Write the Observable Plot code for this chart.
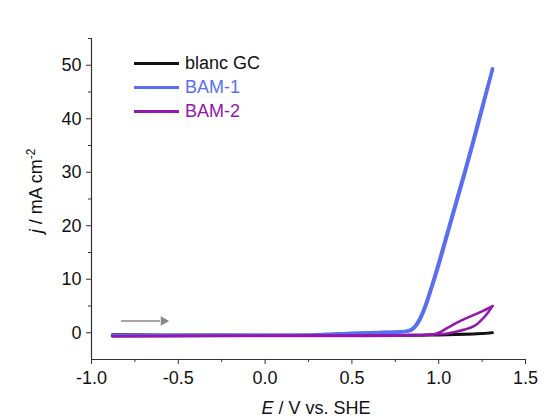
<!DOCTYPE html>
<html>
<head>
<meta charset="utf-8">
<script src="https://cdn.jsdelivr.net/npm/d3@7"></script>
<script src="https://cdn.jsdelivr.net/npm/@observablehq/plot@0.6"></script>
<style>
  html, body { margin: 0; padding: 0; background: #fff; }
  #chart { position: relative; width: 546px; height: 419px; font-family: "Liberation Sans", Arial, sans-serif; }
  .legend { position: absolute; left: 134px; top: 51px; font-size: 18px; line-height: 24px; }
  .legend .row { display: flex; align-items: center; height: 24px; }
  .legend .sw { width: 45px; height: 3px; margin-right: 6px; }
</style>
</head>
<body>
<div id="chart"></div>
<script>
// Axis ticks
const xTicks = [-1.0, -0.5, 0.0, 0.5, 1.0, 1.5];
const xMinorTicks = [-0.75, -0.25, 0.25, 0.75, 1.25];
const yTicks = [0, 10, 20, 30, 40, 50];
const yMinorTicks = [5, 15, 25, 35, 45, 55];
const xDomain = [-1.0, 1.5];
const yDomain = [-5, 55];

// Series names and colours
const seriesNames = ["blanc GC", "BAM-1", "BAM-2"];
const seriesColors = ["#111111", "#5a6ff0", "#9316ad"];

// blanc GC: anodic and cathodic sweeps (E in V vs. SHE, j in mA cm-2)
const blancFwdE = [-0.88, -0.6, -0.2, 0.2, 0.6, 0.9, 1.0, 1.1, 1.2, 1.31];
const blancFwdJ = [-0.35, -0.4, -0.42, -0.42, -0.42, -0.4, -0.36, -0.28, -0.18, -0.02];
const blancRevE = [1.31, 1.2, 1.0, 0.6, 0.0, -0.5, -0.88];
const blancRevJ = [-0.02, -0.3, -0.45, -0.45, -0.45, -0.42, -0.4];

// BAM-1
const bam1FwdE = [-0.88, -0.5, 0.0, 0.3, 0.45, 0.6, 0.7, 0.78, 0.82, 0.85, 0.87, 0.89, 0.91, 0.93, 0.96, 1.0, 1.05, 1.1, 1.15, 1.2, 1.25, 1.31];
const bam1FwdJ = [-0.5, -0.5, -0.45, -0.35, -0.2, 0.0, 0.1, 0.2, 0.35, 0.8, 1.5, 2.6, 4.0, 5.8, 8.8, 13.1, 18.8, 24.5, 30.2, 36.1, 42.2, 49.3];
const bam1RevE = [1.31, 1.25, 1.2, 1.15, 1.1, 1.05, 1.0, 0.96, 0.93, 0.91, 0.89, 0.87, 0.85, 0.82, 0.78, 0.7, 0.5, 0.4];
const bam1RevJ = [49.3, 41.7, 35.6, 29.7, 24.0, 18.3, 12.6, 8.4, 5.4, 3.7, 2.3, 1.3, 0.65, 0.3, 0.15, 0.05, -0.15, -0.25];

// BAM-2
const bam2FwdE = [-0.88, -0.5, 0.0, 0.5, 0.8, 0.95, 1.0, 1.05, 1.1, 1.15, 1.2, 1.22, 1.25, 1.28, 1.31];
const bam2FwdJ = [-0.65, -0.6, -0.55, -0.5, -0.45, -0.38, -0.3, -0.12, 0.2, 0.6, 1.2, 1.6, 2.5, 3.6, 5.0];
const bam2RevE = [1.31, 1.29, 1.25, 1.2, 1.15, 1.1, 1.05, 1.0, 0.97, 0.9, 0.5, 0.0, -0.5, -0.88];
const bam2RevJ = [5.0, 4.65, 4.0, 3.3, 2.6, 1.8, 0.9, 0.0, -0.3, -0.5, -0.6, -0.6, -0.62, -0.65];

// Scan direction arrow
const arrowE = [-0.83, -0.585];
const arrowJ = 2.2;

const rows = [];
function addSweep(curve, sweep, E, J) {
  E.forEach((e, i) => rows.push({curve, sweep, id: curve + "/" + sweep, E: e, j: J[i]}));
}
addSweep("blanc GC", "fwd", blancFwdE, blancFwdJ);
addSweep("blanc GC", "rev", blancRevE, blancRevJ);
addSweep("BAM-1", "fwd", bam1FwdE, bam1FwdJ);
addSweep("BAM-1", "rev", bam1RevE, bam1RevJ);
addSweep("BAM-2", "fwd", bam2FwdE, bam2FwdJ);
addSweep("BAM-2", "rev", bam2RevE, bam2RevJ);

const widths = {"blanc GC": 2.5, "BAM-1": 3.4, "BAM-2": 2.5};
const lineMarks = seriesNames.map(name =>
  Plot.line(rows.filter(d => d.curve === name), {
    x: "E", y: "j", z: "id", stroke: "curve",
    strokeWidth: widths[name], curve: "monotone-x"
  })
);

const axisColor = "#333";
const plot = Plot.plot({
  width: 546,
  height: 419,
  marginLeft: 91,
  marginRight: 21,
  marginTop: 38,
  marginBottom: 60,
  style: {background: "white", fontFamily: "'Liberation Sans', Arial, sans-serif", fontSize: "18px", color: "#111"},
  x: {domain: xDomain, label: null},
  y: {domain: yDomain, label: null},
  color: {domain: seriesNames, range: seriesColors},
  marks: [
    Plot.ruleX([xDomain[0]], {stroke: axisColor, strokeWidth: 1.2}),
    Plot.ruleY([yDomain[0]], {stroke: axisColor, strokeWidth: 1.2}),
    Plot.axisX(xTicks, {tickSize: 5, tickPadding: 7, tickFormat: d => d.toFixed(1), label: null, stroke: axisColor}),
    Plot.axisX(xMinorTicks, {tickSize: 3, text: null, label: null, stroke: axisColor}),
    Plot.axisY(yTicks, {tickSize: 5, tickPadding: 5, label: null, stroke: axisColor}),
    Plot.axisY(yMinorTicks, {tickSize: 3, text: null, label: null, stroke: axisColor}),
    ...lineMarks,
    Plot.link([arrowE], {x1: d => d[0], x2: d => d[1] - 0.02, y1: arrowJ, y2: arrowJ, stroke: "#888", strokeWidth: 1.6}),
    Plot.dot([arrowE], {x: d => d[1], y: arrowJ, symbol: "triangle", rotate: 90, r: 3.6, fill: "#888", stroke: "none"})
  ]
});

const chart = document.getElementById("chart");
chart.appendChild(plot);

// Axis titles with italic variables and superscript
const svg = d3.select(plot);
const xt = svg.append("text")
  .attr("x", 316).attr("y", 414)
  .attr("text-anchor", "middle")
  .attr("font-size", 18).attr("fill", "#111");
xt.append("tspan").attr("font-style", "italic").text("E");
xt.append("tspan").text(" / V vs. SHE");

const yt = svg.append("text")
  .attr("transform", "translate(42,191) rotate(-90)")
  .attr("text-anchor", "middle")
  .attr("font-size", 18).attr("fill", "#111");
yt.append("tspan").attr("font-style", "italic").text("j");
yt.append("tspan").text(" / mA cm");
yt.append("tspan").attr("font-size", 12).attr("dy", -7).text("-2");

// Legend
const legend = d3.select(chart).append("div").attr("class", "legend");
seriesNames.forEach((name, i) => {
  const row = legend.append("div").attr("class", "row");
  row.append("div").attr("class", "sw").style("background", seriesColors[i]);
  row.append("span").style("color", seriesColors[i]).text(name);
});
</script>
</body>
</html>
